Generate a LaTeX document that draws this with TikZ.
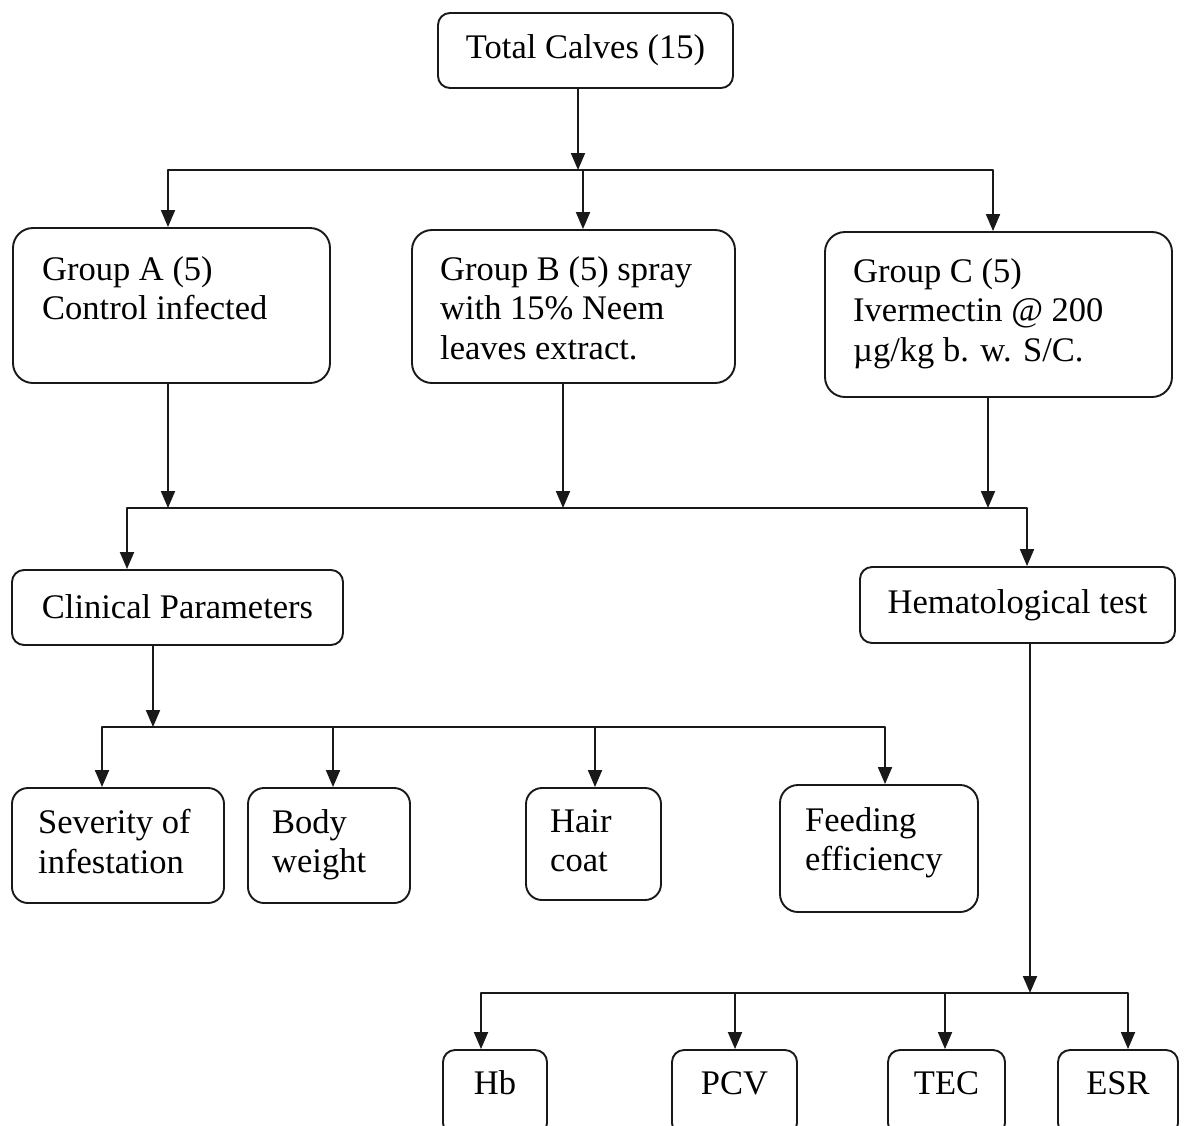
\documentclass[tikz,border=0pt]{standalone}
\usepackage{fontspec}
\setmainfont{Liberation Serif}
\usetikzlibrary{arrows.meta}
\begin{document}
\begin{tikzpicture}[x=1pt,y=-1pt,
  every node/.style={font=\fontsize{34.5pt}{39.5pt}\selectfont, text=black},
  box/.style={draw=black!90, line width=1.9pt, rounded corners=12pt, inner sep=0pt},
  bigbox/.style={box, rounded corners=20pt},
  txt/.style={inner sep=0pt, align=left, anchor=north west},
  arr/.style={draw=black!90, line width=1.9pt, line join=round, -{Triangle[length=17pt,width=14pt]}},
  ln/.style={draw=black!90, line width=1.9pt, line join=round}]
\useasboundingbox (0,0) rectangle (1190,1125);
\clip (0,0) rectangle (1190,1125);
\fill[white] (0,0) rectangle (1190,1125);

% boxes
\node[box, minimum width=295pt, minimum height=75pt] (T) at (585.5,50.5) {Total Calves (15)};
\node[bigbox, minimum width=317pt, minimum height=155pt] (A) at (171.5,305.5) {};
\node[bigbox, minimum width=323pt, minimum height=153pt] (B) at (573.5,306.5) {};
\node[bigbox, minimum width=347pt, minimum height=165pt] (C) at (998.5,314.5) {};
\node[txt] (At) at (42,256) {Group A (5)\\Control infected};
\node[txt] (Bt) at (440,256) {Group B (5) spray\\with 15\% Neem\\leaves extract.};
\node[txt] (Ct) at (853,258) {Group C (5)\\Ivermectin @ 200\\µg/kg b. w. S/C.};

\node[box, minimum width=331pt, minimum height=75pt] (CP) at (177.5,607.5) {\raisebox{2pt}{Clinical Parameters}};
\node[box, minimum width=315pt, minimum height=76pt] (HT) at (1017.5,605) {Hematological test};

\node[box, rounded corners=16pt, minimum width=212pt, minimum height=115pt] (SI) at (118,845.5) {};
\node[box, rounded corners=16pt, minimum width=162pt, minimum height=115pt] (BW) at (329,845.5) {};
\node[box, rounded corners=16pt, minimum width=135pt, minimum height=112pt] (HC) at (593.5,844) {};
\node[box, rounded corners=18pt, minimum width=198pt, minimum height=127pt] (FE) at (879,848.5) {};
\node[txt] (SIt) at (38,809) {Severity of\\infestation};
\node[txt] (BWt) at (272,809) {Body\\weight};
\node[txt] (HCt) at (550,809) {Hair\\coat};
\node[txt] (FEt) at (805,807) {Feeding\\efficiency};

\tikzset{small/.style={box, rounded corners=12pt, minimum height=85pt, text height=24pt, text depth=20pt}}
\node[small, minimum width=104pt] (Hb) at (495,1092.5) {Hb};
\node[small, minimum width=125pt] (PCV) at (734.5,1092.5) {PCV};
\node[small, minimum width=117pt] (TEC) at (946.5,1092.5) {TEC};
\node[small, minimum width=120pt] (ESR) at (1118,1092.5) {ESR};

% junction coordinates
\coordinate (t1) at (578,170);
\coordinate (hA) at (168,170);
\coordinate (hB) at (583,170);
\coordinate (hC) at (993,170);
\coordinate (gA) at (168,508);
\coordinate (gB) at (563,508);
\coordinate (gC) at (988,508);
\coordinate (gL) at (127,508);
\coordinate (gR) at (1027,508);
\coordinate (c1) at (153,727);
\coordinate (cS) at (102,727);
\coordinate (cB) at (333,727);
\coordinate (cH) at (595,727);
\coordinate (cF) at (885,727);
\coordinate (h1) at (1030,993);
\coordinate (hHb) at (481,993);
\coordinate (hP) at (735,993);
\coordinate (hT) at (945,993);
\coordinate (hE) at (1128,993);

% level 1
\draw[arr] (T.south -| t1) -- (t1);
\draw[arr] (hB) -- (hA) -- (A.north -| hA);
\draw[arr] (hB) -- (hC) -- (C.north -| hC);
\draw[arr] (hB) -- (B.north -| hB);

% level 2
\draw[arr] (A.south -| gA) -- (gA);
\draw[arr] (B.south -| gB) -- (gB);
\draw[arr] (C.south -| gC) -- (gC);
\draw[arr] (gB) -- (gL) -- (CP.north -| gL);
\draw[arr] (gB) -- (gR) -- (HT.north -| gR);

% clinical
\draw[arr] (CP.south -| c1) -- (c1);
\draw[arr] (cB) -- (cS) -- (SI.north -| cS);
\draw[arr] (cB) -- (BW.north -| cB);
\draw[arr] (cB) -- (cH) -- (HC.north -| cH);
\draw[arr] (cH) -- (cF) -- (FE.north -| cF);

% hematological
\draw[arr] (HT.south -| h1) -- (h1);
\draw[arr] (hP) -- (hHb) -- (Hb.north -| hHb);
\draw[arr] (hP) -- (PCV.north -| hP);
\draw[arr] (hP) -- (hT) -- (TEC.north -| hT);
\draw[arr] (hT) -- (hE) -- (ESR.north -| hE);
\end{tikzpicture}
\end{document}
